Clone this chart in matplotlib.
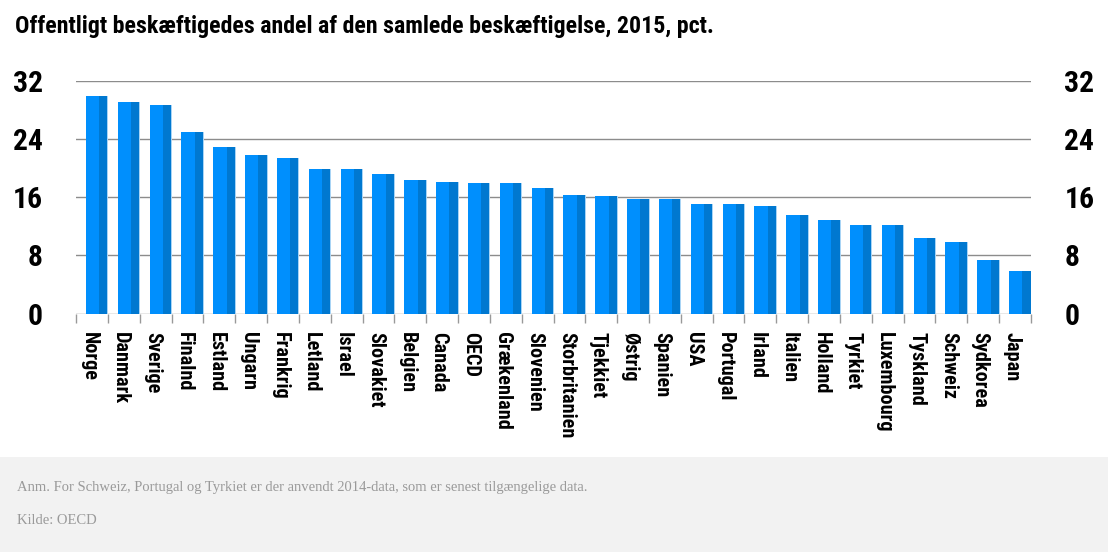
import os
import numpy as np
import matplotlib
matplotlib.use("Agg")
import matplotlib.pyplot as plt
import matplotlib.transforms as mtransforms
from matplotlib import font_manager as fm
from matplotlib.patches import Rectangle

# Offentligt beskaeftigedes andel af samlet beskaeftigelse, 2015 (pct.)
countries = [
    "Norge", "Danmark", "Sverige", "Finalnd", "Estland", "Ungarn", "Frankrig",
    "Letland", "Israel", "Slovakiet", "Belgien", "Canada", "OECD", "Grækenland",
    "Slovenien", "Storbritanien", "Tjekkiet", "Østrig", "Spanien", "USA",
    "Portugal", "Irland", "Italien", "Holland", "Tyrkiet", "Luxembourg",
    "Tyskland", "Schweiz", "Sydkorea", "Japan",
]
values = [
    29.9, 29.1, 28.6, 24.9, 22.9, 21.8, 21.3,
    19.9, 19.9, 19.2, 18.4, 18.1, 18.0, 17.9,
    17.3, 16.3, 16.1, 15.8, 15.7, 15.1,
    15.1, 14.8, 13.5, 12.8, 12.2, 12.2,
    10.4, 9.8, 7.4, 5.9,
]
yticks = [0, 8, 16, 24, 32]

title = "Offentligt beskæftigedes andel af den samlede beskæftigelse, 2015, pct."
note = "Anm. For Schweiz, Portugal og Tyrkiet er der anvendt 2014-data, som er senest tilgængelige data."
source = "Kilde: OECD"

LIGHT = "#008ffd"
DARK = "#0078d0"
EDGE = "#a8d4f5"
GRID = "#8c8c8c"


def pick_font(patterns):
    """Return FontProperties for the first installed file matching a pattern."""
    files = [f.fname for f in fm.fontManager.ttflist]
    for pat in patterns:
        for fn in files:
            base = os.path.basename(fn).lower()
            if base.startswith(pat) and "italic" not in base:
                return fm.FontProperties(fname=fn)
    return None


cond_bold = pick_font(
    ["liberationsansnarrow-bold.", "robotocondensed-bold.", "notosans-condensedbold.",
     "notosans-extracondensedbold.", "dejavusanscondensed-bold.",
     "opensans-condensedbold.", "notosans-semicondensedbold."])
if cond_bold is None:
    cond_bold = fm.FontProperties(family="DejaVu Sans", weight="bold")
cond_serif = pick_font(["notoserif-condensed.", "liberationserif-regular."])
if cond_serif is None:
    cond_serif = fm.FontProperties(family="DejaVu Serif")

fig = plt.figure(figsize=(11.08, 5.52), dpi=100)
renderer = fig.canvas.get_renderer()


def size_for(text, fp, target_px):
    t = fig.text(0, 0, text, fontproperties=fp, fontsize=20)
    w = t.get_window_extent(renderer).width
    t.remove()
    return 20 * target_px / w


# grey footer band
fig.patches.append(Rectangle((0, 0), 1, 95 / 552, transform=fig.transFigure,
                             facecolor="#f2f2f2", edgecolor="none", zorder=0))

ax = fig.add_axes([76 / 1108, 238.3 / 552, 955 / 1108, 233.2 / 552])
x = np.arange(len(countries))
# bars sit in the right part of each slot, with a darker strip on the right
ax.bar(x - 0.186, values, width=0.675, color=LIGHT, align="edge", zorder=2)
ax.bar(x + 0.228, values, width=0.26, color=DARK, align="edge", zorder=3)
ax.bar(x + 0.488, values, width=0.03, color=EDGE, align="edge", zorder=3)

ax.set_xlim(-0.5, len(countries) - 0.5)
ax.set_ylim(0, 32)
for s in ax.spines.values():
    s.set_visible(False)
ax.grid(axis="y", color=GRID, lw=1, zorder=1)
ax.set_axisbelow(True)

ysize = size_for("32", cond_bold, 30)
ax.set_yticks(yticks)
ax.set_yticklabels([str(t) for t in yticks])
ax.tick_params(axis="y", length=0, pad=24, labelright=True, labelleft=True)
for tick in ax.yaxis.get_major_ticks():
    for lab in (tick.label1, tick.label2):
        lab.set_fontproperties(cond_bold)
        lab.set_fontsize(ysize)

xsize = size_for("Storbritanien", cond_bold, 106)
ax.set_xticks(x)
ax.set_xticklabels(countries, rotation=270, va="top", ha="center")
ax.tick_params(axis="x", length=0, pad=13)
shift = mtransforms.ScaledTranslation(-3 / 100, 0, fig.dpi_scale_trans)
for lab in ax.get_xticklabels():
    lab.set_fontproperties(cond_bold)
    lab.set_fontsize(xsize)
    lab.set_transform(lab.get_transform() + shift)
# slot boundary tick marks
ax.set_xticks(np.arange(len(countries) + 1) - 0.5, minor=True)
ax.tick_params(axis="x", which="minor", length=6.5, color="#999999", width=1)

fig.text(15 / 1108, 1 - 33 / 552, title, fontproperties=cond_bold,
         fontsize=size_for(title, cond_bold, 697), va="baseline", ha="left")
fsize = min(10.5, size_for(note, cond_serif, 460))
if os.path.basename(cond_serif.get_file() or "").lower().startswith("liberation"):
    fsize = 10.5
fig.text(17 / 1108, 1 - 487 / 552, note, fontproperties=cond_serif, fontsize=fsize,
         color="#9a9a9a", va="center", ha="left")
fig.text(17 / 1108, 1 - 521 / 552, source, fontproperties=cond_serif, fontsize=fsize,
         color="#9a9a9a", va="center", ha="left")

fig.savefig("out.png", dpi=100)
